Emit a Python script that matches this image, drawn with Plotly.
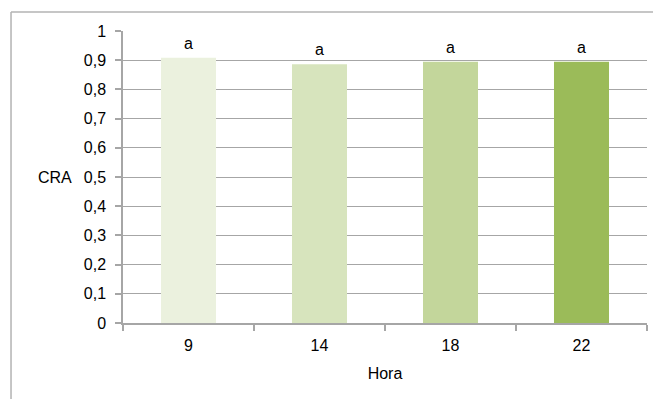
import plotly.graph_objects as go

# Relative water content (CRA) by hour of day
horas = ["9", "14", "18", "22"]
cra = [0.908, 0.886, 0.895, 0.895]
letras = ["a", "a", "a", "a"]
colores = ["#ebf1de", "#d7e4bd", "#c3d69b", "#9bbb59"]

FONT = "Liberation Sans, Arial, sans-serif"
GRAY = "#a6a6a6"

fig = go.Figure(
    go.Bar(
        x=horas,
        y=cra,
        marker=dict(color=colores, line=dict(width=0)),
        width=0.42,
        hoverinfo="skip",
    )
)

# significance letters above each bar (x given as category index)
for i, (v, t) in enumerate(zip(cra, letras)):
    fig.add_annotation(
        x=i, y=v, text=t, showarrow=False,
        yanchor="bottom", yshift=4,
        font=dict(family=FONT, size=16, color="#000000"),
    )

# horizontal y-axis label
fig.add_annotation(
    xref="paper", yref="paper", x=-0.1298, y=0.5,
    text="CRA", showarrow=False, xanchor="center", yanchor="middle",
    font=dict(family=FONT, size=16, color="#000000"),
)

# chart-area frame (left and top edges)
fig.add_shape(type="line", xref="paper", yref="paper",
              x0=-0.2137, x1=-0.2137, y0=1.065, y1=-1,
              line=dict(color="#b3b3b3", width=1.5))
fig.add_shape(type="line", xref="paper", yref="paper",
              x0=-0.2137, x1=2, y0=1.065, y1=1.065,
              line=dict(color="#b3b3b3", width=1.5))

fig.update_layout(
    width=653,
    height=399,
    margin=dict(l=123, r=6, t=31, b=76),
    paper_bgcolor="white",
    plot_bgcolor="white",
    separators=", ",
    showlegend=False,
    font=dict(family=FONT, size=16, color="#000000"),
    xaxis=dict(
        type="category",
        range=[-0.5, len(horas) - 0.5],
        showgrid=False,
        showline=True,
        linecolor=GRAY,
        linewidth=1.5,
        ticks="outside",
        tickson="boundaries",
        ticklen=6,
        tickcolor=GRAY,
        tickwidth=1.5,
        tickangle=0,
        ticklabelstandoff=7,
        tickfont=dict(family=FONT, size=16),
        title=dict(text="Hora", font=dict(family=FONT, size=16), standoff=15),
    ),
    yaxis=dict(
        range=[0, 1],
        dtick=0.1,
        tick0=0,
        showgrid=True,
        gridcolor=GRAY,
        gridwidth=1.3,
        showline=True,
        linecolor=GRAY,
        linewidth=1.5,
        ticks="outside",
        ticklen=6,
        tickcolor=GRAY,
        tickwidth=1.5,
        ticklabelstandoff=6,
        zeroline=False,
        tickfont=dict(family=FONT, size=16),
    ),
)

fig.write_html("out.html")
